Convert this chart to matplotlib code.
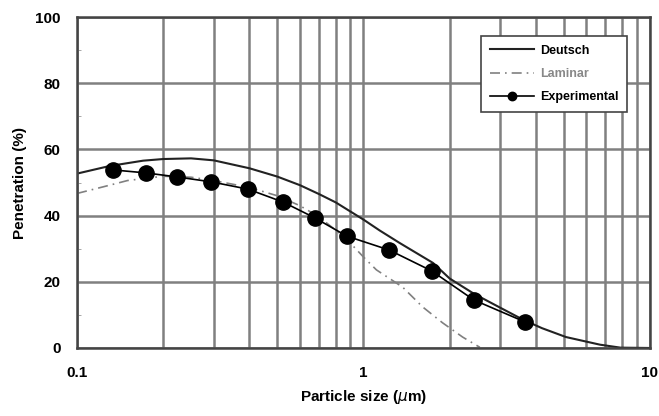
import numpy as np
import matplotlib.pyplot as plt
from matplotlib.ticker import FixedLocator, NullFormatter

# Experimental penetration data
exp_size = [0.134, 0.174, 0.223, 0.294, 0.395, 0.524, 0.677, 0.875, 1.23, 1.73, 2.43, 3.66]
exp_pen = [53.8, 52.9, 51.7, 50.2, 48.0, 44.1, 39.3, 33.8, 29.6, 23.3, 14.5, 7.9]

# Deutsch model curve
deutsch_size = [0.1, 0.13, 0.17, 0.2, 0.25, 0.3, 0.4, 0.5, 0.6, 0.7, 0.8, 1.0,
                1.14, 1.34, 1.75, 2.0, 2.43, 3.0, 3.6, 4.2, 5.1, 6.7, 7.9, 10.0]
deutsch_pen = [52.7, 55.0, 56.6, 57.1, 57.3, 56.7, 54.3, 51.8, 49.2, 46.5, 44.0, 38.8,
               35.5, 31.7, 25.7, 21.0, 16.4, 12.2, 8.6, 6.0, 3.3, 1.0, 0.1, 0.0]

# Laminar model curve
laminar_size = [0.1, 0.13, 0.15, 0.2, 0.25, 0.3, 0.4, 0.5, 0.6, 0.7, 0.8, 0.9,
                1.0, 1.11, 1.37, 1.61, 1.89, 2.22, 2.55]
laminar_pen = [46.7, 49.2, 50.6, 51.9, 51.6, 50.6, 48.5, 46.0, 43.0, 39.6, 35.6, 31.7,
               27.5, 23.6, 18.4, 12.4, 7.6, 3.3, 0.2]

plt.rcParams['font.family'] = ['Liberation Sans', 'DejaVu Sans']

fig = plt.figure(figsize=(6.59, 4.16), dpi=100)
ax = fig.add_axes([0.117, 0.1635, 0.869, 0.7955])

grid_color = '#808080'
ax.set_xscale('log')
ax.set_xlim(0.1, 10)
ax.set_ylim(0, 100)

ax.xaxis.set_minor_locator(FixedLocator([m * d for d in (0.1, 1) for m in range(2, 10)]))
ax.xaxis.set_minor_formatter(NullFormatter())
ax.set_xticks([0.1, 1, 10])
ax.set_xticklabels(['0.1', '1', '10'])
ax.set_yticks([0, 20, 40, 60, 80, 100])
ax.yaxis.set_minor_locator(FixedLocator([10, 30, 50, 70, 90]))

ax.grid(True, which='major', color=grid_color, lw=1.8)
ax.grid(True, which='minor', axis='x', color=grid_color, lw=1.8)
ax.tick_params(which='both', length=0, labelsize=11)
ax.tick_params(axis='x', pad=13)
ax.tick_params(axis='y', pad=12)
ax.tick_params(axis='y', which='minor', length=3, direction='in', color='#999999')
for lbl in ax.get_xticklabels() + ax.get_yticklabels():
    lbl.set_fontweight('bold')
for sp in ax.spines.values():
    sp.set_color('#444444')
    sp.set_linewidth(1.8)

ax.plot(deutsch_size, deutsch_pen, color='#222222', lw=1.5, label='Deutsch')
ax.plot(laminar_size, laminar_pen, color='#808080', lw=1.2, ls=(0, (6, 3, 1, 3)),
        label='Laminar')
ax.plot(exp_size, exp_pen, color='black', lw=1.2, marker='o', markersize=11,
        label='Experimental')

ax.set_ylabel('Penetration (%)', fontsize=11, fontweight='bold', labelpad=6)
ax.set_xlabel(r'Particle size ($\mu$m)', fontsize=11, fontweight='bold', labelpad=6)

leg = ax.legend(loc='upper right', bbox_to_anchor=(0.961, 0.943), borderaxespad=0,
                fancybox=False, framealpha=1, edgecolor='#444444', fontsize=9,
                handlelength=3.5, handletextpad=0.5, borderpad=0.7, labelspacing=0.9,
                markerscale=0.55)
leg.get_frame().set_linewidth(1.2)
for t in leg.get_texts():
    t.set_fontweight('bold')
leg.get_texts()[1].set_color('#888888')

fig.savefig('out.png', dpi=100)
